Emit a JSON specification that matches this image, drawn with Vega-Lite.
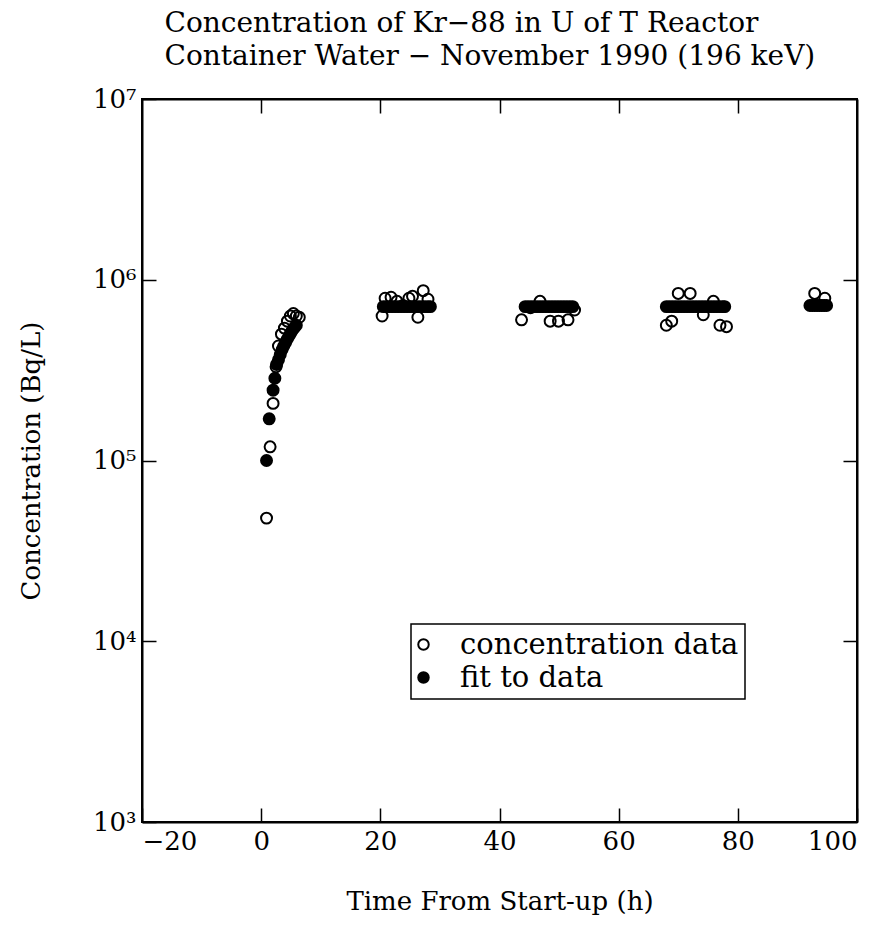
{
  "$schema": "https://vega.github.io/schema/vega-lite/v6.json",
  "autosize": {"type": "none"},
  "width": 715,
  "height": 723,
  "padding": {"left": 142, "top": 99, "right": 37, "bottom": 113},
  "background": "white",
  "title": {
    "text": ["Concentration of Kr−88 in U of T Reactor", "Container Water − November 1990 (196 keV)"],
    "anchor": "start",
    "dx": 146,
    "font": "DejaVu Serif",
    "fontSize": 28,
    "fontWeight": "normal",
    "lineHeight": 33,
    "color": "black",
    "offset": 15
  },
  "config": {
    "view": {"stroke": "black", "strokeWidth": 2},
    "axis": {
      "grid": false,
      "domainColor": "black",
      "domainWidth": 2,
      "tickColor": "black",
      "tickWidth": 1.5,
      "tickSize": -14,
      "labelFont": "DejaVu Serif",
      "labelFontSize": 26,
      "labelColor": "black",
      "titleFont": "DejaVu Serif",
      "titleFontSize": 26,
      "titleFontWeight": "normal",
      "titleColor": "black"
    },
    "legend": {
      "orient": "none",
      "legendX": 269,
      "legendY": 525,
      "strokeColor": "black",
      "strokeWidth": 1.5,
      "padding": 6,
      "symbolOffset": -8,
      "labelFont": "DejaVu Serif",
      "labelFontSize": 29,
      "labelLimit": 0,
      "labelColor": "black",
      "symbolSize": 110,
      "symbolStrokeWidth": 2,
      "symbolStrokeColor": "black",
      "labelOffset": 22,
      "rowPadding": 3
    }
  },
  "data": {
    "values": [
      {"t": 0.9, "c": 48000, "s": "concentration data"},
      {"t": 1.5, "c": 119000, "s": "concentration data"},
      {"t": 2.0, "c": 207000, "s": "concentration data"},
      {"t": 2.5, "c": 330000, "s": "concentration data"},
      {"t": 2.9, "c": 430000, "s": "concentration data"},
      {"t": 3.4, "c": 500000, "s": "concentration data"},
      {"t": 3.9, "c": 540000, "s": "concentration data"},
      {"t": 4.4, "c": 590000, "s": "concentration data"},
      {"t": 4.9, "c": 630000, "s": "concentration data"},
      {"t": 5.4, "c": 650000, "s": "concentration data"},
      {"t": 5.9, "c": 630000, "s": "concentration data"},
      {"t": 6.4, "c": 620000, "s": "concentration data"},
      {"t": 20.3, "c": 630000, "s": "concentration data"},
      {"t": 20.8, "c": 790000, "s": "concentration data"},
      {"t": 21.8, "c": 800000, "s": "concentration data"},
      {"t": 22.8, "c": 760000, "s": "concentration data"},
      {"t": 23.8, "c": 720000, "s": "concentration data"},
      {"t": 24.8, "c": 790000, "s": "concentration data"},
      {"t": 25.4, "c": 810000, "s": "concentration data"},
      {"t": 26.3, "c": 620000, "s": "concentration data"},
      {"t": 27.2, "c": 870000, "s": "concentration data"},
      {"t": 28.0, "c": 780000, "s": "concentration data"},
      {"t": 43.7, "c": 600000, "s": "concentration data"},
      {"t": 45.2, "c": 700000, "s": "concentration data"},
      {"t": 46.8, "c": 760000, "s": "concentration data"},
      {"t": 48.5, "c": 590000, "s": "concentration data"},
      {"t": 49.9, "c": 590000, "s": "concentration data"},
      {"t": 51.5, "c": 600000, "s": "concentration data"},
      {"t": 52.6, "c": 680000, "s": "concentration data"},
      {"t": 68.0, "c": 560000, "s": "concentration data"},
      {"t": 68.9, "c": 590000, "s": "concentration data"},
      {"t": 70.0, "c": 840000, "s": "concentration data"},
      {"t": 72.0, "c": 840000, "s": "concentration data"},
      {"t": 74.2, "c": 640000, "s": "concentration data"},
      {"t": 75.9, "c": 760000, "s": "concentration data"},
      {"t": 77.0, "c": 560000, "s": "concentration data"},
      {"t": 78.1, "c": 550000, "s": "concentration data"},
      {"t": 92.9, "c": 840000, "s": "concentration data"},
      {"t": 94.6, "c": 790000, "s": "concentration data"},
      {"t": 0.9, "c": 100000, "s": "fit to data"},
      {"t": 1.35, "c": 170000, "s": "fit to data"},
      {"t": 2.0, "c": 245000, "s": "fit to data"},
      {"t": 2.3, "c": 285000, "s": "fit to data"},
      {"t": 2.6, "c": 340000, "s": "fit to data"},
      {"t": 2.9, "c": 360000, "s": "fit to data"},
      {"t": 3.2, "c": 385000, "s": "fit to data"},
      {"t": 3.5, "c": 410000, "s": "fit to data"},
      {"t": 3.8, "c": 430000, "s": "fit to data"},
      {"t": 4.1, "c": 450000, "s": "fit to data"},
      {"t": 4.4, "c": 470000, "s": "fit to data"},
      {"t": 4.7, "c": 490000, "s": "fit to data"},
      {"t": 5.0, "c": 510000, "s": "fit to data"},
      {"t": 5.3, "c": 530000, "s": "fit to data"},
      {"t": 5.6, "c": 545000, "s": "fit to data"},
      {"t": 5.9, "c": 560000, "s": "fit to data"},
      {"t": 20.5, "c": 710000, "s": "fit to data"},
      {"t": 21.0, "c": 710000, "s": "fit to data"},
      {"t": 21.5, "c": 710000, "s": "fit to data"},
      {"t": 22.0, "c": 710000, "s": "fit to data"},
      {"t": 22.5, "c": 710000, "s": "fit to data"},
      {"t": 23.0, "c": 710000, "s": "fit to data"},
      {"t": 23.5, "c": 710000, "s": "fit to data"},
      {"t": 24.0, "c": 710000, "s": "fit to data"},
      {"t": 24.5, "c": 710000, "s": "fit to data"},
      {"t": 25.0, "c": 710000, "s": "fit to data"},
      {"t": 25.5, "c": 710000, "s": "fit to data"},
      {"t": 26.0, "c": 710000, "s": "fit to data"},
      {"t": 26.5, "c": 710000, "s": "fit to data"},
      {"t": 27.0, "c": 710000, "s": "fit to data"},
      {"t": 27.5, "c": 710000, "s": "fit to data"},
      {"t": 28.0, "c": 710000, "s": "fit to data"},
      {"t": 28.4, "c": 710000, "s": "fit to data"},
      {"t": 44.3, "c": 710000, "s": "fit to data"},
      {"t": 44.8, "c": 710000, "s": "fit to data"},
      {"t": 45.3, "c": 710000, "s": "fit to data"},
      {"t": 45.8, "c": 710000, "s": "fit to data"},
      {"t": 46.3, "c": 710000, "s": "fit to data"},
      {"t": 46.8, "c": 710000, "s": "fit to data"},
      {"t": 47.3, "c": 710000, "s": "fit to data"},
      {"t": 47.8, "c": 710000, "s": "fit to data"},
      {"t": 48.3, "c": 710000, "s": "fit to data"},
      {"t": 48.8, "c": 710000, "s": "fit to data"},
      {"t": 49.3, "c": 710000, "s": "fit to data"},
      {"t": 49.8, "c": 710000, "s": "fit to data"},
      {"t": 50.3, "c": 710000, "s": "fit to data"},
      {"t": 50.8, "c": 710000, "s": "fit to data"},
      {"t": 51.3, "c": 710000, "s": "fit to data"},
      {"t": 51.8, "c": 710000, "s": "fit to data"},
      {"t": 52.3, "c": 710000, "s": "fit to data"},
      {"t": 68.0, "c": 710000, "s": "fit to data"},
      {"t": 68.5, "c": 710000, "s": "fit to data"},
      {"t": 69.0, "c": 710000, "s": "fit to data"},
      {"t": 69.5, "c": 710000, "s": "fit to data"},
      {"t": 70.0, "c": 710000, "s": "fit to data"},
      {"t": 70.5, "c": 710000, "s": "fit to data"},
      {"t": 71.0, "c": 710000, "s": "fit to data"},
      {"t": 71.5, "c": 710000, "s": "fit to data"},
      {"t": 72.0, "c": 710000, "s": "fit to data"},
      {"t": 72.5, "c": 710000, "s": "fit to data"},
      {"t": 73.0, "c": 710000, "s": "fit to data"},
      {"t": 73.5, "c": 710000, "s": "fit to data"},
      {"t": 74.0, "c": 710000, "s": "fit to data"},
      {"t": 74.5, "c": 710000, "s": "fit to data"},
      {"t": 75.0, "c": 710000, "s": "fit to data"},
      {"t": 75.5, "c": 710000, "s": "fit to data"},
      {"t": 76.0, "c": 710000, "s": "fit to data"},
      {"t": 76.5, "c": 710000, "s": "fit to data"},
      {"t": 77.0, "c": 710000, "s": "fit to data"},
      {"t": 77.5, "c": 710000, "s": "fit to data"},
      {"t": 77.8, "c": 710000, "s": "fit to data"},
      {"t": 92.1, "c": 720000, "s": "fit to data"},
      {"t": 92.5, "c": 720000, "s": "fit to data"},
      {"t": 92.9, "c": 720000, "s": "fit to data"},
      {"t": 93.3, "c": 720000, "s": "fit to data"},
      {"t": 93.7, "c": 720000, "s": "fit to data"},
      {"t": 94.1, "c": 720000, "s": "fit to data"},
      {"t": 94.5, "c": 720000, "s": "fit to data"},
      {"t": 94.9, "c": 720000, "s": "fit to data"}
    ]
  },
  "layer": [
    {
      "mark": {"type": "point", "shape": "circle", "filled": true, "size": 120, "stroke": "black", "strokeWidth": 2, "opacity": 1},
      "encoding": {
        "x": {
          "field": "t", "type": "quantitative",
          "scale": {"domain": [-20, 100], "nice": false, "zero": false},
          "axis": {"orient": "bottom", "values": [-20, 0, 20, 40, 60, 80, 100], "title": "Time From Start-up (h)", "labelPadding": 20, "titlePadding": 34}
        },
        "y": {
          "field": "c", "type": "quantitative",
          "scale": {"type": "log", "domain": [1000, 10000000], "nice": false},
          "axis": {"orient": "left", "values": [1000, 10000, 100000, 1000000, 10000000], "title": "Concentration (Bq/L)", "labelPadding": 20, "titlePadding": 48,
            "labelExpr": "datum.value == 1000 ? '10³' : datum.value == 10000 ? '10⁴' : datum.value == 100000 ? '10⁵' : datum.value == 1000000 ? '10⁶' : '10⁷'"}
        },
        "fill": {
          "field": "s", "type": "nominal",
          "scale": {"domain": ["concentration data", "fit to data"], "range": ["transparent", "black"]},
          "legend": {"title": null}
        }
      }
    },
    {
      "mark": {"type": "point", "opacity": 0},
      "encoding": {
        "x": {"field": "t", "type": "quantitative", "axis": {"orient": "top", "values": [0, 20, 40, 60, 80], "labels": false, "title": null}},
        "y": {"field": "c", "type": "quantitative", "scale": {"type": "log"}, "axis": {"orient": "right", "values": [10000, 100000, 1000000], "labels": false, "title": null}}
      }
    }
  ],
  "resolve": {"axis": {"x": "independent", "y": "independent"}}
}
